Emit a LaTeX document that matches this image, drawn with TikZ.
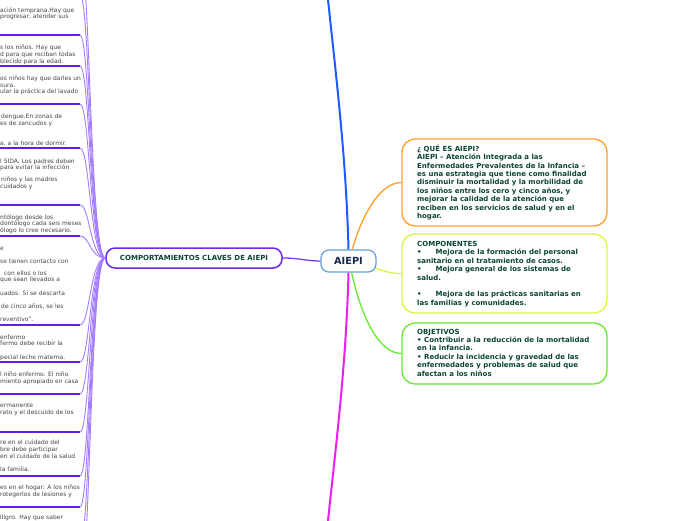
\documentclass[tikz,border=0pt]{standalone}
\usepackage{fontspec}
\setmainfont{DejaVu Sans}
\definecolor{ulcol}{RGB}{95,30,235}
\definecolor{conncol}{RGB}{165,125,255}
\definecolor{cborder}{RGB}{110,40,240}
\definecolor{cline}{RGB}{120,60,240}
\definecolor{txtgray}{RGB}{70,70,70}
\definecolor{boxtxt}{RGB}{10,70,50}
\definecolor{navytxt}{RGB}{25,40,80}
\definecolor{aiepiborder}{RGB}{100,160,215}
\definecolor{blueln}{RGB}{30,90,255}
\definecolor{magentaln}{RGB}{235,30,240}
\definecolor{orangeln}{RGB}{255,160,40}
\definecolor{yellowln}{RGB}{222,245,60}
\definecolor{greenln}{RGB}{100,235,50}
\begin{document}
\begin{tikzpicture}[x=1pt,y=-1pt,
  lt/.style={anchor=base west,inner sep=0pt,font=\fontsize{6}{6.5}\selectfont,text=txtgray},
  uline/.style={draw=ulcol,line width=1.5pt},
  conn/.style={draw=conncol,line width=0.9pt},
  bxtext/.style={anchor=west,align=left,inner sep=0pt,font=\fontsize{7}{8.4}\selectfont\bfseries,text=boxtxt},
  rbox/.style={draw,line width=1.3pt,rounded corners=13pt,minimum width=205pt,fill=white},
  mainln/.style={line width=2pt},
  subln/.style={line width=1.3pt}
]
\useasboundingbox (0,0) rectangle (696,520);
\fill[white] (0,0) rectangle (696,520);
\clip (0,0) rectangle (696,520);

% central nodes
\node[draw=cborder,line width=1.5pt,rounded corners=9pt,minimum width=176pt,minimum height=20pt,
      fill=white,font=\fontsize{7}{8}\selectfont\bfseries,text=boxtxt] (C) at (194,258) {COMPORTAMIENTOS CLAVES DE AIEPI};
\node[draw=aiepiborder,line width=1.2pt,rounded corners=8pt,minimum width=55pt,minimum height=22pt,
      fill=white,font=\fontsize{9.8}{10}\selectfont\bfseries,text=navytxt] (A) at (348.5,261) {AIEPI};

% right boxes
\node[rbox,draw=orangeln,minimum height=87pt] (Q) at (504.5,182.5) {};
\node[rbox,draw=yellowln,minimum height=79pt] (K) at (504.5,273.5) {};
\node[rbox,draw=greenln,minimum height=61pt] (O) at (504.5,353.5) {};

\node[bxtext] (Qt) at (417,182.5) {¿ QUÉ ES AIEPI?\\
AIEPI – Atención Integrada a las\\
Enfermedades Prevalentes de la Infancia –\\
es una estrategia que tiene como finalidad\\
disminuir la mortalidad y la morbilidad de\\
los niños entre los cero y cinco años, y\\
mejorar la calidad de la atención que\\
reciben en los servicios de salud y en el\\
hogar.};
\node[bxtext] (Kt) at (417,274) {COMPONENTES\\
•\hspace{14pt}Mejora de la formación del personal\\
sanitario en el tratamiento de casos.\\
•\hspace{14pt}Mejora general de los sistemas de\\
salud.\\[8.4pt]
•\hspace{14pt}Mejora de las prácticas sanitarias en\\
las familias y comunidades.};
\node[bxtext] (Ot) at (417,352.5) {OBJETIVOS\\
• Contribuir a la reducción de la mortalidad\\
en la infancia.\\
• Reducir la incidencia y gravedad de las\\
enfermedades y problemas de salud que\\
afectan a los niños};

% main branches
\coordinate (topend) at (326,-20);
\coordinate (botend) at (326,540);
\draw[mainln,blueln] (A.north) .. controls (346,150) and (334,60) .. (topend);
\draw[mainln,magentaln] (A.south) .. controls (346,372) and (334,460) .. (botend);
\draw[subln,orangeln] (A.72) .. controls (362,215) and (380,182.5) .. (Q.west);
\draw[subln,yellowln] (A.-15) .. controls (386,272) and (392,273.5) .. (K.west);
\draw[subln,greenln] (A.-75) .. controls (362,320) and (380,353.5) .. (O.west);
\draw[line width=1.3pt,cline] (C.east) .. controls (300,258) and (305,261) .. (A.west);

% left items: underlines and connectors
\foreach \yu [count=\i] in {-45,-5,35,66,104,148,205,236,325,362,394,432,476,507,545,590}{
  \coordinate (u\i) at (80,\yu);
  \draw[uline] (0,\yu) -- (u\i);
  \draw[conn] (u\i) .. controls (90,\yu) and (90,258) .. (C.west);
}

% left item texts (clipped at the left edge)
\foreach \xx/\yy/\tt [count=\j] in {
  0/10/{ación temprana.Hay que},
  0/16/{progresar, atender sus},
  0/47/{s los niños.  Hay que},
  0/54/{d para que reciban todas},
  0/61/{blecido para la edad.},
  0/78/{os niños hay que darles un},
  0/85/{sura.},
  0/91/{ular la práctica del lavado},
  1/116/{dengue.En zonas de},
  0/123/{es de zancudos y},
  0/143/{a, a la hora de dormir.},
  0/161/{l SIDA. Los padres deben},
  0/167/{para evitar la infección},
  1/179/{niños y las madres},
  0/186/{cuidados y},
  0/217/{ntólogo desde los},
  0/223/{dontólogo cada seis meses},
  0/230/{ólogo lo cree necesario.},
  0/248/{e},
  0/261/{se tienen contacto con},
  4/273/{con ellos o los},
  0/279/{que sean llevados a},
  0/293/{uados. Si se descarta},
  1/306/{de cinco años, se les},
  0/319/{reventivo”.},
  0/337/{enfermo},
  0/343/{fermo debe recibir la},
  0/357/{pecial leche materna.},
  0/374/{l niño enfermo. El niño},
  0/381/{miento apropiado en casa},
  0/405/{ermanente},
  0/412/{rato y el descuido de los},
  0/442/{re en el cuidado del},
  0/449/{bre debe participar},
  0/456/{en el cuidado de la salud},
  0/469/{la familia.},
  0/487/{es en el hogar: A los niños},
  0/494/{rotegerlos de lesiones y},
  0/517/{lligro. Hay que saber}}{
  \node[lt] (t\j) at (\xx,\yy+2) {\tt};
}
\end{tikzpicture}
\end{document}
